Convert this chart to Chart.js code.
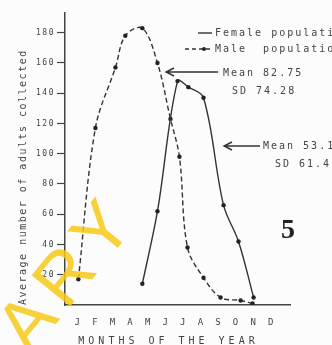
<!DOCTYPE html>
<html>
<head>
<meta charset="utf-8">
<script src="https://cdn.jsdelivr.net/npm/chart.js@4"></script>
<style>
  html, body { margin: 0; padding: 0; background: #fcfcfc; }
  #wrap { width: 332px; height: 345px; }
</style>
</head>
<body>
<div id="wrap"><canvas id="myChart" width="332" height="345"></canvas></div>
<script>
// month labels on the x axis
const months = ['J', 'F', 'M', 'A', 'M', 'J', 'J', 'A', 'S', 'O', 'N', 'D'];
// y axis tick values
const yTicks = [20, 40, 60, 80, 100, 120, 140, 160, 180];

// female population (solid line), x = month position
const femaleX = [3.7, 4.56, 5.7, 6.32, 7.18, 8.32, 9.17, 10.03];
const femaleY = [14, 62, 148, 144, 137, 66, 42, 5];

// male population (dashed line)
const maleX = [0.06, 1.03, 2.17, 2.73, 3.7, 4.56, 5.3, 5.81, 6.27, 7.18, 8.15, 9.29, 9.97];
const maleY = [17, 117, 157, 178, 183, 160, 123, 98, 38, 18, 5, 3, 1];

const ink = '#333';
const textCol = '#444';
const mono = "'DejaVu Sans Mono', monospace";

function toPoints(xs, ys) {
    return xs.map((x, i) => ({ x: x, y: ys[i] }));
}

// canvas letter spacing (and a small shift) for scale labels and titles
function spaced(fn, sp, dx) {
    return function (...args) {
        const c = this.ctx;
        c.save();
        c.letterSpacing = sp;
        c.translate(dx || 0, 0);
        fn.apply(this, args);
        c.restore();
    };
}

const spacingPlugin = {
    id: 'spacing',
    beforeDraw(chart) {
        const set = { x: ['0px', '4px', -9], y: ['1.5px', '1.5px', 0] };
        for (const id in set) {
            const s = chart.scales[id];
            if (!s || s._spaced) continue;
            s.drawLabels = spaced(s.drawLabels, set[id][0], 0);
            s.drawTitle = spaced(s.drawTitle, set[id][1], set[id][2]);
            s._spaced = true;
        }
    }
};

function arrowLeft(ctx, x1, x2, y) {
    ctx.beginPath();
    ctx.moveTo(x2, y);
    ctx.lineTo(x1, y);
    ctx.moveTo(x1 + 8, y - 4);
    ctx.lineTo(x1, y);
    ctx.lineTo(x1 + 8, y + 4);
    ctx.stroke();
}

const notesPlugin = {
    id: 'notes',
    afterDraw(chart) {
        const ctx = chart.ctx;
        ctx.save();
        ctx.strokeStyle = ink;
        ctx.fillStyle = textCol;
        ctx.lineWidth = 1.4;
        ctx.font = '10px ' + mono;
        ctx.letterSpacing = '2px';
        ctx.textBaseline = 'middle';
        ctx.textAlign = 'left';

        // legend
        ctx.beginPath();
        ctx.moveTo(198, 33);
        ctx.lineTo(212, 33);
        ctx.stroke();
        ctx.fillText('Female population', 215, 33);
        ctx.setLineDash([4, 3]);
        ctx.beginPath();
        ctx.moveTo(185, 49);
        ctx.lineTo(212, 49);
        ctx.stroke();
        ctx.setLineDash([]);
        ctx.fillStyle = '#222';
        ctx.beginPath();
        ctx.arc(204, 49, 2, 0, Math.PI * 2);
        ctx.fill();
        ctx.fillStyle = textCol;
        ctx.fillText('Male  population', 215, 49);

        // statistics
        arrowLeft(ctx, 166, 218, 72);
        ctx.fillText('Mean 82.75', 223, 73);
        ctx.fillText('SD 74.28', 232, 91);
        arrowLeft(ctx, 224, 260, 146);
        ctx.fillText('Mean 53.1', 263, 146);
        ctx.fillText('SD 61.4', 275, 164);

        // figure number
        ctx.letterSpacing = '0px';
        ctx.fillStyle = '#222';
        ctx.font = "bold 28px 'Liberation Serif', serif";
        ctx.textAlign = 'center';
        ctx.fillText('5', 288, 231);

        // watermark
        ctx.translate(30, 356);
        ctx.rotate(-51 * Math.PI / 180);
        ctx.fillStyle = 'rgba(247, 200, 20, 0.85)';
        ctx.font = "72px 'Liberation Sans', sans-serif";
        ctx.letterSpacing = '10px';
        ctx.textAlign = 'left';
        ctx.textBaseline = 'alphabetic';
        ctx.fillText('ARY', 0, 0);
        ctx.restore();
    }
};

document.addEventListener('DOMContentLoaded', function () {
    const ctx = document.getElementById('myChart').getContext('2d');

    const myChart = new Chart(ctx, {
        type: 'line',
        data: {
            datasets: [{
                label: 'Female population',
                data: toPoints(femaleX, femaleY),
                borderColor: ink,
                borderWidth: 1.4,
                tension: 0.35,
                pointRadius: 2.2,
                pointBorderWidth: 0,
                pointBackgroundColor: '#222'
            }, {
                label: 'Male population',
                data: toPoints(maleX, maleY),
                borderColor: ink,
                borderWidth: 1.4,
                borderDash: [5, 3],
                tension: 0.35,
                pointRadius: 2.2,
                pointBorderWidth: 0,
                pointBackgroundColor: '#222'
            }]
        },
        options: {
            responsive: false,
            animation: false,
            layout: { padding: { left: 8, top: 13, right: 42, bottom: 0 } },
            plugins: {
                legend: { display: false },
                tooltip: { enabled: false }
            },
            scales: {
                x: {
                    type: 'linear',
                    min: -0.7,
                    max: 12.1,
                    afterBuildTicks: function (scale) {
                        scale.ticks = months.map((m, i) => ({ value: i }));
                    },
                    afterFit: function (scale) { scale.height = 40; },
                    grid: { display: true, drawOnChartArea: false, drawTicks: false },
                    border: { display: true, color: '#444', width: 1.5 },
                    ticks: {
                        padding: 12,
                        color: textCol,
                        font: { family: mono, size: 9 },
                        callback: function (v) { return months[v]; }
                    },
                    title: {
                        display: true,
                        text: 'MONTHS OF THE YEAR',
                        color: textCol,
                        padding: 0,
                        font: { family: mono, size: 10, lineHeight: 0.8 }
                    }
                },
                y: {
                    min: 0,
                    max: 193,
                    afterBuildTicks: function (scale) {
                        scale.ticks = yTicks.map(v => ({ value: v }));
                    },
                    afterFit: function (scale) { scale.width = 57; },
                    grid: { drawOnChartArea: false, tickLength: 8, color: '#444', tickWidth: 1.2 },
                    border: { display: true, color: '#444', width: 1.5 },
                    ticks: {
                        padding: 2,
                        color: textCol,
                        font: { family: mono, size: 8 }
                    },
                    title: {
                        display: true,
                        text: 'Average number of adults collected',
                        align: 'start',
                        color: textCol,
                        padding: { top: 9, bottom: 0 },
                        font: { family: mono, size: 10 }
                    }
                }
            }
        },
        plugins: [spacingPlugin, notesPlugin]
    });
});
</script>
</body>
</html>
